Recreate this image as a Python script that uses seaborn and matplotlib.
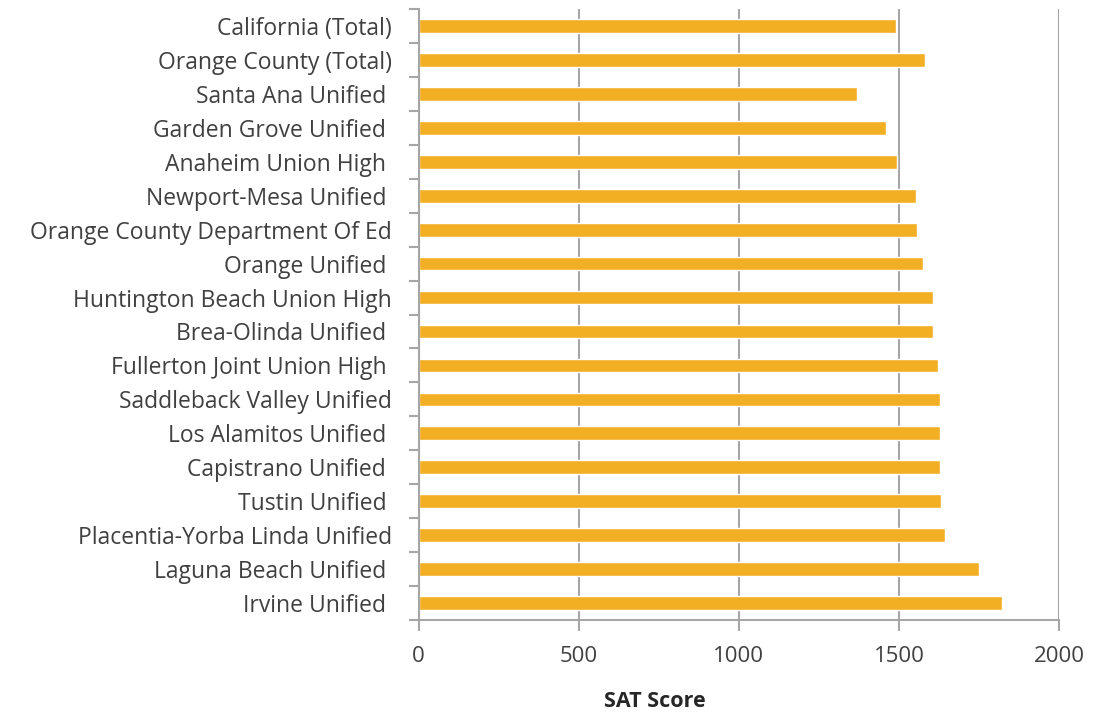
import pandas as pd
import matplotlib
matplotlib.use("Agg")
import matplotlib.pyplot as plt
import seaborn as sns

# ==========================================
# Data
# ==========================================

districts = [
    "California (Total)",
    "Orange County (Total)",
    "Santa Ana Unified ",
    "Garden Grove Unified ",
    "Anaheim Union High ",
    "Newport-Mesa Unified ",
    "Orange County Department Of Ed",
    "Orange Unified ",
    "Huntington Beach Union High",
    "Brea-Olinda Unified ",
    "Fullerton Joint Union High ",
    "Saddleback Valley Unified",
    "Los Alamitos Unified ",
    "Capistrano Unified ",
    "Tustin Unified ",
    "Placentia-Yorba Linda Unified",
    "Laguna Beach Unified ",
    "Irvine Unified ",
]

sat_scores = [1490, 1580, 1368, 1460, 1494, 1554, 1556, 1574, 1606,
              1606, 1622, 1628, 1629, 1629, 1632, 1644, 1751, 1823]

xticks = [0, 500, 1000, 1500, 2000]

df = pd.DataFrame({"district": districts, "sat": sat_scores})

# ==========================================
# Plot
# ==========================================

sns.set_theme(style="white")
plt.rcParams["font.family"] = ["Open Sans", "DejaVu Sans"]

fig = plt.figure(figsize=(10.93, 7.14), dpi=100)
ax = fig.add_axes([0.383, 0.132, 0.586, 0.855])

sns.barplot(data=df, x="sat", y="district", color="#F3AF24",
            saturation=1, width=0.4, ax=ax)

ax.set_xlim(0, 2000)
ax.set_ylim(17.5, -0.5)
ax.set_xticks(xticks)

grid_col = "#A6A6A6"
ax.grid(axis="x", color=grid_col, linewidth=1.5)
ax.set_axisbelow(True)

for s in ["top", "right"]:
    ax.spines[s].set_visible(False)
for s in ["left", "bottom"]:
    ax.spines[s].set_color(grid_col)
    ax.spines[s].set_linewidth(1.5)

# Excel-style ticks between categories
ax.set_yticks([i - 0.5 for i in range(len(districts) + 1)], minor=True)
ax.tick_params(axis="y", which="major", length=0, pad=19,
               labelsize=16.5, labelcolor="#404040")
ax.tick_params(axis="y", which="minor", left=True, length=7,
               width=1.5, color=grid_col)
ax.tick_params(axis="x", bottom=True, length=8, width=1.5, color=grid_col,
               pad=11, labelsize=16, labelcolor="#404040")

ax.set_ylabel("")
ax.set_xlabel("SAT Score", fontsize=15.5, fontweight="bold", color="#262626")
ax.xaxis.set_label_coords(0.369, -0.117)

plt.savefig("out.png", dpi=100)
